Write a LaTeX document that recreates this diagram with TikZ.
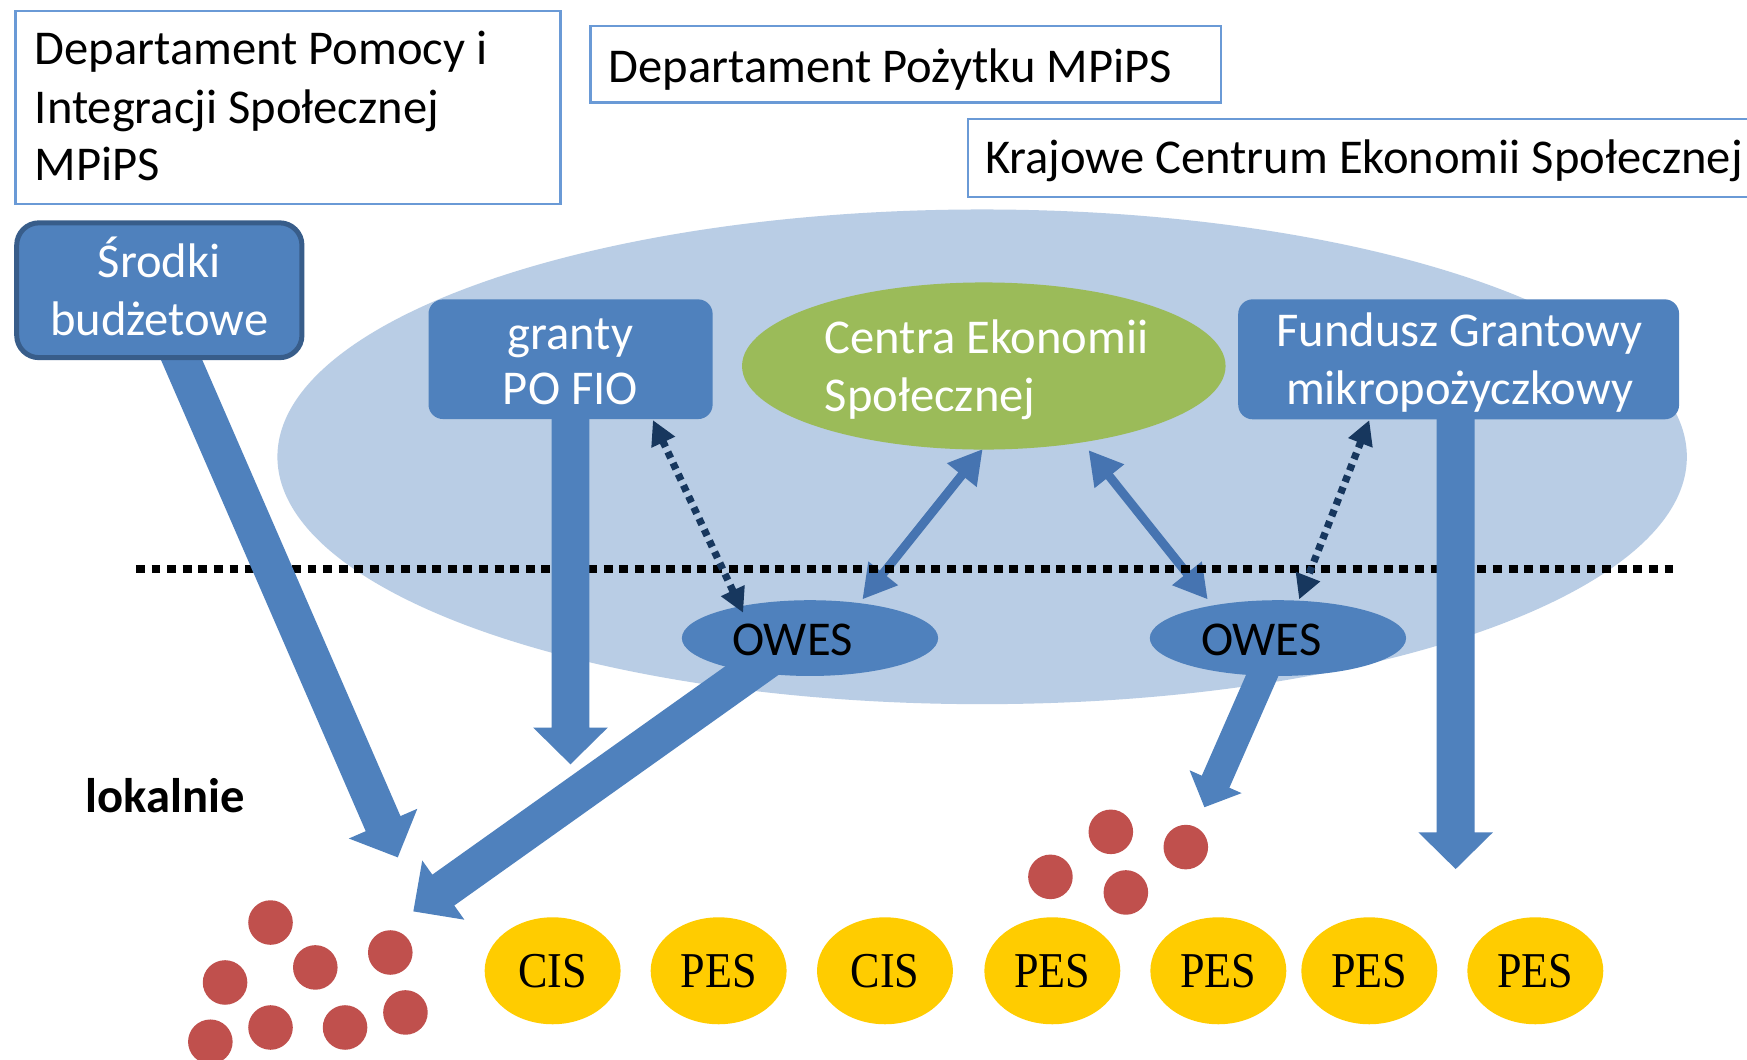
\documentclass[tikz,border=0pt]{standalone}
\usepackage{fontspec}
\setmainfont{Carlito}
\newfontfamily\serifyel[FakeStretch=0.88]{Liberation Serif}
\usetikzlibrary{calc,arrows.meta,shapes.geometric}
\definecolor{bgell}{HTML}{B9CDE5}
\definecolor{mblue}{HTML}{4F81BD}
\definecolor{dblue}{HTML}{385D8A}
\definecolor{boxline}{HTML}{6A9AD6}
\definecolor{cgreen}{HTML}{9BBB59}
\definecolor{cred}{HTML}{C0504D}
\definecolor{cyel}{HTML}{FFCC00}
\definecolor{navy}{HTML}{17375E}
\definecolor{darrow}{HTML}{4674B1}
\newcommand\blockarrow[5]{%
  \coordinate (ba-c) at ($(#2)!#5pt!(#1)$);
  \fill[mblue] ($(#1)!#3pt!90:(#2)$) -- ($(ba-c)!#3pt!90:(#2)$) -- ($(ba-c)!#4pt!90:(#2)$)
    -- (#2) -- ($(ba-c)!#4pt!-90:(#2)$) -- ($(ba-c)!#3pt!-90:(#2)$) -- ($(#1)!#3pt!-90:(#2)$) -- cycle;
}
\begin{document}
\begin{tikzpicture}[x=1pt,y=-1pt,
  topbox/.style={draw=boxline, line width=2pt, rectangle, inner sep=0pt},
  txt/.style={inner sep=0pt, font=\fontsize{43.6}{52}\selectfont},
  wtxt/.style={txt, text=white},
  bluebox/.style={fill=mblue, rounded corners=13pt, inner sep=0pt},
  dot/.style={circle, fill=cred, minimum size=40pt, inner sep=0pt},
  yel/.style={ellipse, fill=cyel, minimum width=122pt, minimum height=96pt, inner sep=0pt,
     font=\serifyel\fontsize{45}{50}\selectfont},
  owes/.style={ellipse, fill=mblue, minimum width=230pt, minimum height=68pt, inner sep=0pt},
  dbl/.style={darrow, line width=8pt, {Triangle[length=30pt,width=32pt]}-{Triangle[length=30pt,width=32pt]}},
  dotarr/.style={navy, line width=6.5pt, dash pattern=on 6pt off 5pt,
     {Triangle[length=22pt,width=22pt]}-{Triangle[length=22pt,width=22pt]}}
]
\useasboundingbox[fill=white] (0,0) rectangle (1568,951);

% top boxes
\node[topbox, minimum width=489pt, minimum height=173pt] (b1) at (258.5,96.5) {};
\node[topbox, minimum width=566pt, minimum height=69pt] (b2) at (813,57.5) {};
\node[topbox, minimum width=711pt, minimum height=70pt] (b3) at (1224.5,142) {};
\node[txt, anchor=base west] (t1a) at (31,58.3) {Departament Pomocy i};
\node[txt, anchor=base west] (t1b) at (31,110.5) {Integracji Społecznej};
\node[txt, anchor=base west] (t1c) at (31,162) {MPiPS};
\node[txt, anchor=base west] (t2) at (546,74) {Departament Pożytku MPiPS};
\node[txt, anchor=base west] (t3) at (884,156) {Krajowe Centrum Ekonomii Społecznej};

% field
\node[ellipse, fill=bgell, minimum width=1265pt, minimum height=444pt, inner sep=0pt] (field) at (881.5,410) {};

% coordinates for connectors
\coordinate (srodki-out) at (153,300);
\coordinate (srodki-tip) at (357,769.5);
\coordinate (granty-out) at (512,370);
\coordinate (granty-tip) at (512,686);
\coordinate (owesL-out) at (700,584);
\coordinate (owesL-tip) at (371,818);
\coordinate (owesR-out) at (1140,590);
\coordinate (owesR-tip) at (1081,724.5);
\coordinate (fund-out) at (1306.5,370);
\coordinate (fund-tip) at (1306.5,780);
\coordinate (ces-l) at (882,403);
\coordinate (ces-r) at (977,404);
\coordinate (owesL-t) at (774,538);
\coordinate (owesR-t) at (1084,538);
\coordinate (granty-d) at (586,377);
\coordinate (owesL-d) at (667,550);
\coordinate (fund-d) at (1229,377);
\coordinate (owesR-d) at (1166,538);
\coordinate (dl-l) at (122,511);
\coordinate (dl-r) at (1507,511);

% double arrows between CES and OWES
\draw[dbl] (ces-l) -- (owesL-t);
\draw[dbl] (ces-r) -- (owesR-t);

% dotted level line
\draw[line width=7pt, dash pattern=on 8pt off 6pt] (dl-l) -- (dl-r);

% block arrows
\blockarrow{srodki-out}{srodki-tip}{17}{33.5}{33}
\blockarrow{granty-out}{granty-tip}{17}{33.5}{33}
\blockarrow{owesL-out}{owesL-tip}{17}{32.6}{33}
\blockarrow{owesR-out}{owesR-tip}{13.5}{25.5}{25}
\blockarrow{fund-out}{fund-tip}{17}{33.5}{33}

% boxes
\node[draw=dblue, line width=4.5pt, fill=mblue, rounded corners=20pt, minimum width=256pt, minimum height=121pt, inner sep=0pt] (srodki) at (143,260.5) {};
\node[wtxt, anchor=base] (srodki-1) at (143,249.5) {Środki};
\node[wtxt, anchor=base] (srodki-2) at (143,300.7) {budżetowe};

\node[bluebox, minimum width=255pt, minimum height=107.4pt] (granty) at (512.1,322.4) {};
\node[wtxt, anchor=base] (granty-1) at (512,314) {granty};
\node[wtxt, anchor=base] (granty-2) at (512,363) {PO FIO};

\node[ellipse, fill=cgreen, minimum width=434pt, minimum height=150pt, inner sep=0pt] (ces) at (883,328.5) {};
\node[wtxt, anchor=base west] (ces-1) at (740,317.2) {Centra Ekonomii};
\node[wtxt, anchor=base west] (ces-2) at (740,369.5) {Społecznej};

\node[bluebox, minimum width=395.7pt, minimum height=107.7pt] (fund) at (1309.2,322.5) {};
\node[wtxt, anchor=base] (fund-1) at (1310,311.2) {Fundusz Grantowy};
\node[wtxt, anchor=base] (fund-2) at (1310,362.7) {mikropożyczkowy};

\node[owes] (owesL) at (727,572.7) {};
\node[txt, anchor=base] (owesL-txt) at (711.3,588) {OWES};
\node[owes] (owesR) at (1147,572.7) {};
\node[txt, anchor=base] (owesR-txt) at (1132,588) {OWES};

% dotted navy double arrows
\draw[dotarr] (granty-d) -- (owesL-d);
\draw[dotarr] (fund-d) -- (owesR-d);

% local level
\node[txt, anchor=base, font=\fontsize{43.6}{52}\selectfont\bfseries] (lok) at (148,729) {lokalnie};

\node[dot] (d1) at (242.8,828) {};
\node[dot] (d2) at (202,881.8) {};
\node[dot] (d3) at (283,868.3) {};
\node[dot] (d4) at (350.3,854.9) {};
\node[dot] (d5) at (188.8,935) {};
\node[dot] (d6) at (242.8,922.2) {};
\node[dot] (d7) at (309.7,922.2) {};
\node[dot] (d8) at (363.9,908.7) {};
\node[dot] (d9) at (997,746.6) {};
\node[dot] (d10) at (1064.3,760.3) {};
\node[dot] (d11) at (942.8,787) {};
\node[dot] (d12) at (1010.5,801) {};

\node[yel] (y1) at (496,871.3) {CIS};
\node[yel] (y2) at (645,871.3) {PES};
\node[yel] (y3) at (794.3,871.3) {CIS};
\node[yel] (y4) at (944.5,871.3) {PES};
\node[yel] (y5) at (1093.5,871.3) {PES};
\node[yel] (y6) at (1229,871.3) {PES};
\node[yel] (y7) at (1378,871.3) {PES};
\end{tikzpicture}
\end{document}
